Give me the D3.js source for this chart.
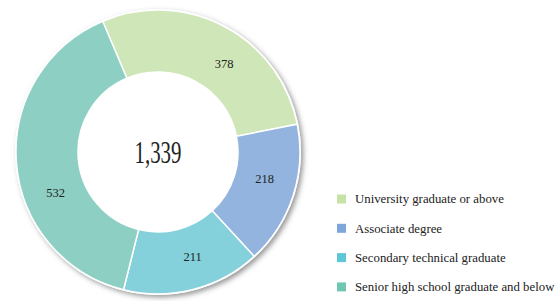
<!DOCTYPE html>
<html><head><meta charset="utf-8">
<script src="https://cdn.jsdelivr.net/npm/d3@7"></script>
<style>html,body{margin:0;padding:0;background:#fff;}svg{display:block;}</style>
</head><body>
<svg id="c" width="560" height="301"></svg>
<script>
const categories = ["University graduate or above","Associate degree","Secondary technical graduate","Senior high school graduate and below"];
const values = [378, 218, 211, 532];
const sliceColors = ["#cfe6b8","#93b4de","#84d1dc","#8dd0c3"];
const legendColors = ["#c5e3a5","#7fa6d9","#5ec6d6","#6fc7b3"];
const totalLabel = "1,339";

const FONT = "'Liberation Serif', 'Times New Roman', serif";
const svg = d3.select("#c");
const cx = 158, cy = 152, rOuter = 142, rInner = 80;
const defs = svg.append("defs");
const f = defs.append("filter").attr("id","sh").attr("x","-20%").attr("y","-20%").attr("width","140%").attr("height","140%");
f.append("feDropShadow").attr("dx",2.5).attr("dy",2.5).attr("stdDeviation",2.5).attr("flood-color","#555").attr("flood-opacity",0.6);

const g = svg.append("g").attr("transform",`translate(${cx},${cy})`);
g.append("circle").attr("r",rOuter+1).attr("fill","#fff").attr("filter","url(#sh)");

const pie = d3.pie().sort(null).value(d=>d).startAngle(-0.40).endAngle(-0.40+2*Math.PI);
const arcs = pie(values);
const arc = d3.arc().innerRadius(rInner).outerRadius(rOuter);
g.selectAll("path.s").data(arcs).enter().append("path").attr("class","s")
  .attr("d",arc).attr("fill",(d,i)=>sliceColors[i]).attr("stroke","#fff").attr("stroke-width",1.5);

// label placement: along the ring, nudged within each slice as in the original layout
const labelShiftDeg = [9, -4, -4, -17];
const labelR = 110;
g.selectAll("text.v").data(arcs).enter().append("text").attr("class","v")
  .attr("transform",(d,i)=>{
    const a = (d.startAngle + d.endAngle)/2 + labelShiftDeg[i]*Math.PI/180;
    return `translate(${labelR*Math.sin(a)},${-labelR*Math.cos(a)})`;
  })
  .attr("text-anchor","middle").attr("dy","0.35em")
  .style("font-family",FONT).style("font-size","12.5px").attr("fill","#222")
  .text(d=>d.data);

g.append("text").attr("text-anchor","middle").attr("x",0).attr("y",11)
  .style("font-family",FONT).style("font-size","32px").attr("fill","#222")
  .attr("textLength",47).attr("lengthAdjust","spacingAndGlyphs")
  .text(totalLabel);

const lg = svg.append("g").attr("transform","translate(337,199)");
const rows = lg.selectAll("g").data(categories).enter().append("g")
  .attr("transform",(d,i)=>`translate(0,${i*29.3})`);
rows.append("rect").attr("x",0).attr("y",-4.5).attr("width",9).attr("height",9).attr("fill",(d,i)=>legendColors[i]);
rows.append("text").attr("x",18).attr("y",0).attr("dy","0.35em")
  .style("font-family",FONT).style("font-size","12.8px").attr("fill","#222")
  .text(d=>d);
</script>
</body></html>
